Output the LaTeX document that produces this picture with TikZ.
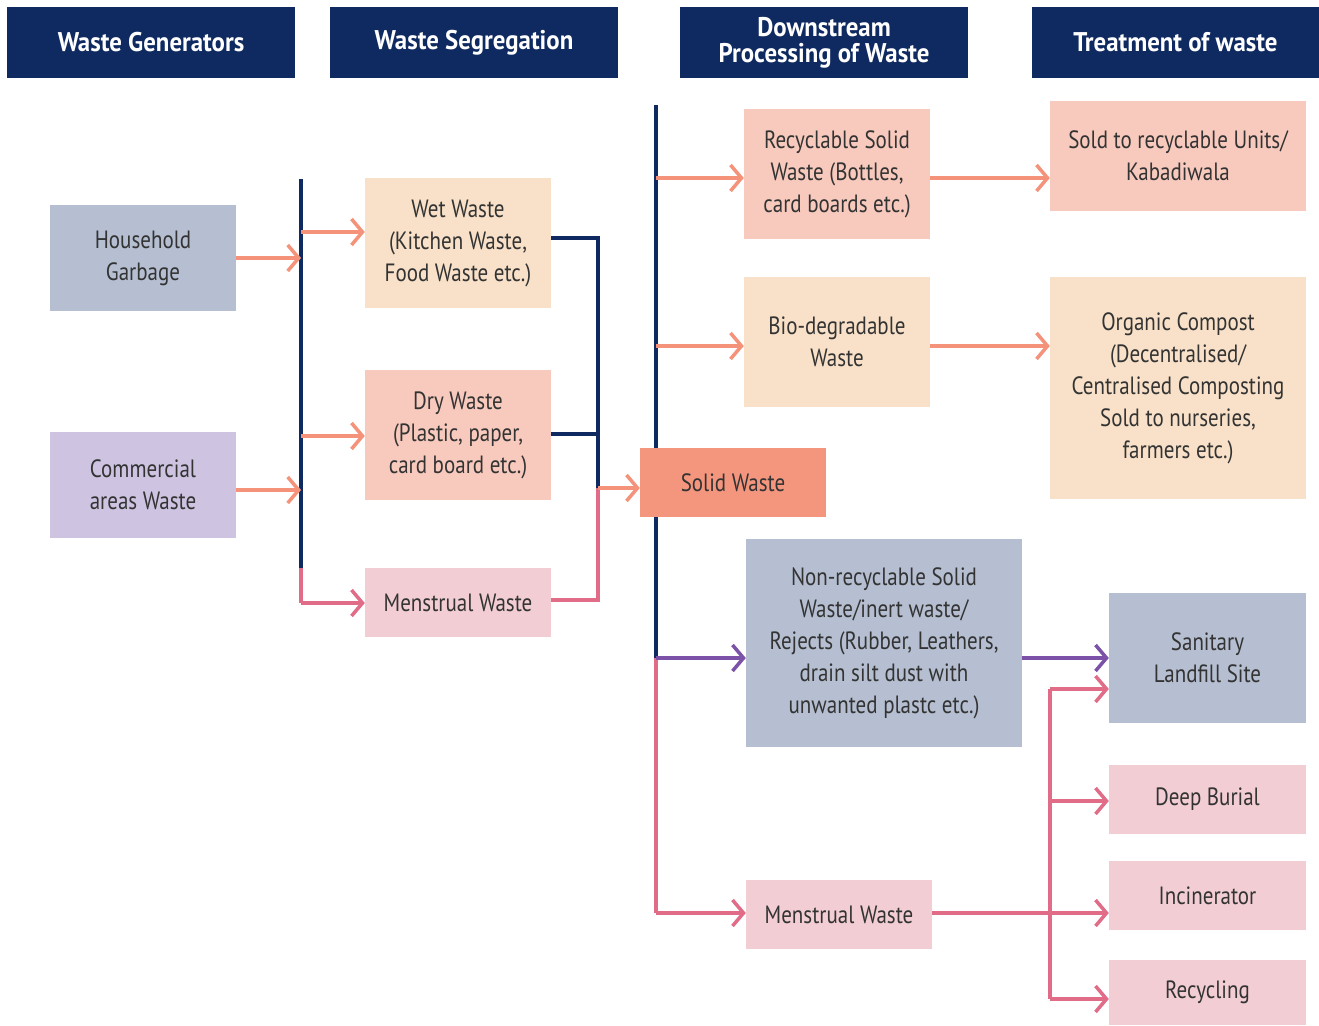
\documentclass[tikz,border=0pt]{standalone}
\usepackage{fontspec}
\setmainfont[FakeStretch=0.84]{PT Sans}
\newfontfamily\hdrfont[FakeStretch=0.92]{PT Sans}
\usetikzlibrary{arrows.meta}
\definecolor{navy}{HTML}{0F2A60}
\definecolor{salm}{HTML}{F4937A}
\definecolor{pinkl}{HTML}{E06C88}
\definecolor{purp}{HTML}{7B52A8}
\definecolor{cgrey}{HTML}{B5BFD1}
\definecolor{clav}{HTML}{CEC4E2}
\definecolor{cpeach}{HTML}{F8E1C8}
\definecolor{crose}{HTML}{F8CABD}
\definecolor{cpink}{HTML}{F2CED4}
\definecolor{csolid}{HTML}{F4967E}
\definecolor{txt}{HTML}{333333}
\tikzset{
  hdr/.style={fill=navy,text=white,font=\hdrfont\fontsize{27}{26}\selectfont\bfseries,align=center,inner sep=0},
  bx/.style={text=txt,font=\fontsize{25}{32}\selectfont,align=center,inner sep=0},
  ln/.style={line width=3.5pt},
  arr/.style={ln,-{Straight Barb[length=11pt,width=26pt,line width=3.5pt]}},
}
\begin{document}
\begin{tikzpicture}[x=1pt,y=-1pt]
\useasboundingbox (0,0) rectangle (1319,1025);
% headers
\node[hdr,minimum width=288,minimum height=71] (h1) at (151,42.5) {Waste Generators};
\node[hdr,minimum width=288,minimum height=71] (h2) at (474,42.5) {Waste Segregation};
\node[hdr,minimum width=288,minimum height=71] (h3) at (824,42.5) {Downstream\\Processing of Waste};
\node[hdr,minimum width=287,minimum height=71] (h4) at (1175.5,42.5) {Treatment of waste};
% boxes
\node[bx,fill=cgrey,minimum width=186,minimum height=106] (hh) at (143,258) {Household\\Garbage};
\node[bx,fill=clav,minimum width=186,minimum height=106] (ca) at (143,485) {Commercial\\areas Waste};
\node[bx,fill=cpeach,minimum width=186,minimum height=130] (wet) at (458,243) {Wet Waste\\(Kitchen Waste,\\Food Waste etc.)};
\node[bx,fill=crose,minimum width=186,minimum height=130] (dry) at (458,435) {Dry Waste\\(Plastic, paper,\\card board etc.)};
\node[bx,fill=cpink,minimum width=186,minimum height=69] (mw) at (458,602.5) {Menstrual Waste};
\node[bx,fill=csolid,minimum width=186,minimum height=69] (sw) at (733,482.5) {Solid Waste};
\node[bx,fill=crose,minimum width=186,minimum height=130] (rec) at (837,174) {Recyclable Solid\\Waste (Bottles,\\card boards etc.)};
\node[bx,fill=cpeach,minimum width=186,minimum height=130] (bio) at (837,342) {Bio-degradable\\Waste};
\node[bx,fill=cgrey,minimum width=276,minimum height=208] (nr) at (884,643) {Non-recyclable Solid\\Waste/inert waste/\\Rejects (Rubber, Leathers,\\drain silt dust with\\unwanted plastc etc.)};
\node[bx,fill=cpink,minimum width=186,minimum height=69] (mw2) at (839,914.5) {Menstrual Waste};
\node[bx,fill=crose,minimum width=256,minimum height=110] (sold) at (1178,156) {Sold to recyclable Units/\\Kabadiwala};
\node[bx,fill=cpeach,minimum width=256,minimum height=222] (oc) at (1178,388) {Organic Compost\\(Decentralised/\\Centralised Composting\\Sold to nurseries,\\farmers etc.)};
\node[bx,fill=cgrey,minimum width=197,minimum height=130] (sl) at (1207.5,658) {Sanitary\\Landfill Site};
\node[bx,fill=cpink,minimum width=197,minimum height=69] (db) at (1207.5,799.5) {Deep Burial};
\node[bx,fill=cpink,minimum width=197,minimum height=69] (inc) at (1207.5,895.5) {Incinerator};
\node[bx,fill=cpink,minimum width=197,minimum height=65] (rcy) at (1207.5,992.5) {Recycling};
% bus coordinates
\coordinate (b1t) at (301,179);
\coordinate (b1m) at (301,568);
\coordinate (b1b) at (301,603);
\coordinate (b2t) at (598,238);
\coordinate (b2m) at (598,488);
\coordinate (b2b) at (598,600);
\coordinate (b3t) at (656,105);
\coordinate (b3m) at (656,658);
\coordinate (b3b) at (656,913);
\coordinate (b4t) at (1050,689);
\coordinate (b4b) at (1050,999);
% first bus
\draw[ln,navy] (b1t) -- (b1m);
\draw[ln,pinkl] (b1m) -- (b1b);
\draw[arr,salm] (hh.east |- 0,258) -- (301,258);
\draw[arr,salm] (ca.east |- 0,490) -- (301,490);
\draw[arr,salm] (301,232) -- (wet.west |- 0,232);
\draw[arr,salm] (301,436) -- (dry.west |- 0,436);
\draw[arr,pinkl] (b1b) -- (mw.west |- b1b);
% second bus
\draw[ln,navy] (wet.east |- b2t) -- (b2t) -- (b2m);
\draw[ln,navy] (dry.east |- 0,434) -- (598,434);
\draw[ln,pinkl] (mw.east |- b2b) -- (b2b) -- (b2m);
\draw[arr,salm] (b2m) -- (sw.west |- b2m);
% third bus
\draw[ln,navy] (b3t) -- (sw.north -| b3t);
\draw[ln,navy] (sw.south -| b3t) -- (b3m);
\draw[ln,pinkl] (b3m) -- (b3b);
\draw[arr,salm] (656,178) -- (rec.west |- 0,178);
\draw[arr,salm] (656,346) -- (bio.west |- 0,346);
\draw[arr,purp] (b3m) -- (nr.west |- b3m);
\draw[arr,pinkl] (b3b) -- (mw2.west |- b3b);
% treatment arrows
\draw[arr,salm] (rec.east |- 0,178) -- (sold.west |- 0,178);
\draw[arr,salm] (bio.east |- 0,346) -- (oc.west |- 0,346);
\draw[arr,purp] (nr.east |- 0,658) -- (sl.west |- 0,658);
\draw[ln,pinkl] (b4t) -- (b4b);
\draw[arr,pinkl] (mw2.east |- 0,913) -- (inc.west |- 0,913);
\draw[arr,pinkl] (b4t) -- (sl.west |- b4t);
\draw[arr,pinkl] (1050,801) -- (db.west |- 0,801);
\draw[arr,pinkl] (b4b) -- (rcy.west |- b4b);
\end{tikzpicture}
\end{document}
